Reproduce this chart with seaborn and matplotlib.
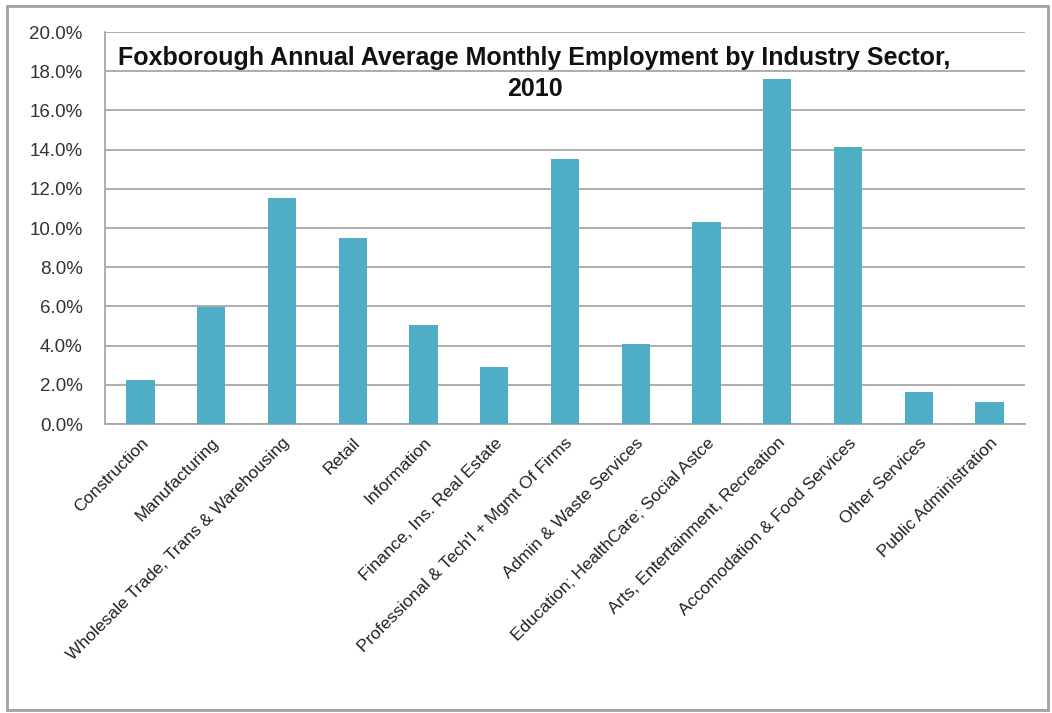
import pandas as pd
import seaborn as sns
import matplotlib.pyplot as plt
from matplotlib.patches import Rectangle
from matplotlib.ticker import PercentFormatter

sectors = [
    'Construction', 'Manufacturing', 'Wholesale Trade, Trans & Warehousing',
    'Retail', 'Information', 'Finance, Ins. Real Estate',
    "Professional & Tech'l + Mgmt Of Firms", 'Admin & Waste Services',
    'Education; HealthCare; Social Astce', 'Arts, Entertainment, Recreation',
    'Accomodation & Food Services', 'Other Services', 'Public Administration',
]
share = [2.25, 5.97, 11.55, 9.47, 5.05, 2.92, 13.5, 4.07, 10.31, 17.6, 14.13, 1.62, 1.1]
y_ticks = [0, 2, 4, 6, 8, 10, 12, 14, 16, 18, 20]

df = pd.DataFrame({'sector': sectors, 'share': share})

sns.set_theme(style='white')
plt.rcParams['font.family'] = ['Liberation Sans', 'DejaVu Sans']

fig = plt.figure(figsize=(10.52, 7.13), dpi=100)
ax = fig.add_axes([0.0998, 0.4053, 0.8745, 0.5498])

sns.barplot(data=df, x='sector', y='share', color='#4FADC5', saturation=1,
            width=0.4, linewidth=0, ax=ax, zorder=3)

ax.set_ylim(0, 20)
ax.set_xlim(-0.5, len(sectors) - 0.5)
ax.set_yticks(y_ticks)
ax.yaxis.set_major_formatter(PercentFormatter(decimals=1))
ax.grid(axis='y', color='#A6A6A6', linewidth=1.3, zorder=0)
ax.set_xlabel('')
ax.set_ylabel('')

for s in ['top', 'right']:
    ax.spines[s].set_visible(False)
for s in ['left', 'bottom']:
    ax.spines[s].set_color('#A6A6A6')
    ax.spines[s].set_linewidth(1.3)

ax.tick_params(axis='y', length=0, pad=16, labelsize=13.5, labelcolor='#333333')
ax.tick_params(axis='x', length=0, pad=8, labelsize=12.5, labelcolor='#222222')
plt.setp(ax.get_xticklabels(), rotation=45, ha='right', rotation_mode='anchor')

ax.text(0.467, 0.965, 'Foxborough Annual Average Monthly Employment by Industry Sector,\n2010',
        transform=ax.transAxes, ha='center', va='top', fontsize=18,
        fontweight='bold', linespacing=1.4, color='#111111')

# outer chart border
fig.patches.append(Rectangle((0.007, 0.004), 0.989, 0.987, transform=fig.transFigure,
                             fill=False, edgecolor='#A0A0A0', linewidth=2))

fig.savefig('out.png', dpi=100)
